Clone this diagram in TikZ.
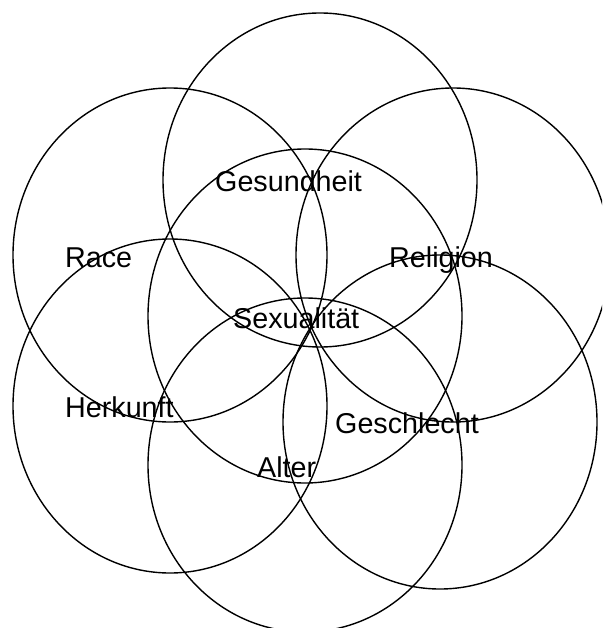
\documentclass[tikz,border=0pt]{standalone}
\usepackage{fontspec}
\setmainfont{Liberation Sans}
\begin{document}
\begin{tikzpicture}[x=1pt,y=-1pt,
  ring/.style={draw=black, line width=1.4pt},
  lbl/.style={anchor=base west, inner sep=0pt, font=\fontsize{28.7}{34}\selectfont}]
\useasboundingbox (0,0) rectangle (602,628);
\begin{scope}
\clip (0,0) rectangle (602,628);
\draw[ring] (320,180) ellipse [x radius=157pt, y radius=167pt];
\draw[ring] (170,255) ellipse [x radius=157pt, y radius=167pt];
\draw[ring] (453,255) ellipse [x radius=157pt, y radius=167pt];
\draw[ring] (305,316) ellipse [x radius=157pt, y radius=167pt];
\draw[ring] (170,406) ellipse [x radius=157pt, y radius=167pt];
\draw[ring] (440,422) ellipse [x radius=157pt, y radius=167pt];
\draw[ring] (305,465) ellipse [x radius=157pt, y radius=167pt];
\end{scope}
\node[lbl] (gesundheit) at (215,192) {Gesundheit};
\node[lbl] (race) at (65,267) {Race};
\node[lbl] (religion) at (389,267) {Religion};
\node[lbl] (sexualitaet) at (233,328) {Sexualität};
\node[lbl] (herkunft) at (65,417) {Herkunft};
\node[lbl] (geschlecht) at (335,433) {Geschlecht};
\node[lbl] (alter) at (257,477) {Alter};
\end{tikzpicture}
\end{document}
